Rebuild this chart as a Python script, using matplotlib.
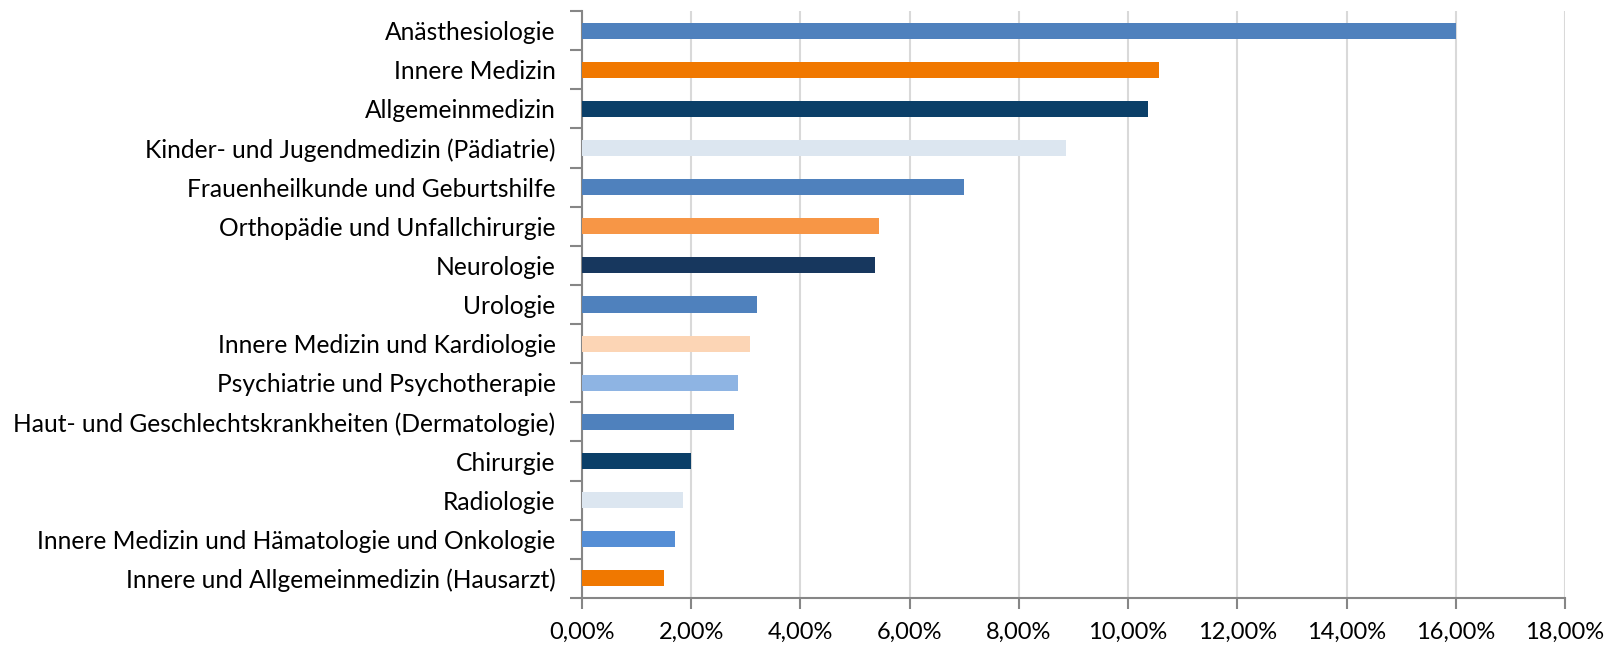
import matplotlib
matplotlib.use("Agg")
import matplotlib.pyplot as plt
import numpy as np
from matplotlib.ticker import FuncFormatter, FixedLocator

plt.rcParams['font.family'] = ['Lato', 'DejaVu Sans']

fachgebiete = [
    "Anästhesiologie",
    "Innere Medizin",
    "Allgemeinmedizin",
    "Kinder- und Jugendmedizin (Pädiatrie)",
    "Frauenheilkunde und Geburtshilfe",
    "Orthopädie und Unfallchirurgie",
    "Neurologie",
    "Urologie",
    "Innere Medizin und Kardiologie",
    "Psychiatrie und Psychotherapie",
    "Haut- und Geschlechtskrankheiten (Dermatologie)",
    "Chirurgie",
    "Radiologie",
    "Innere Medizin und Hämatologie und Onkologie",
    "Innere und Allgemeinmedizin (Hausarzt)",
]
anteile = [16.0, 10.57, 10.37, 8.86, 7.0, 5.44, 5.37, 3.21, 3.08, 2.86,
           2.78, 2.0, 1.85, 1.70, 1.50]
farben = ["#4F81BD", "#F07800", "#0B3F68", "#DCE6F0", "#4F81BD", "#F79646",
          "#17375E", "#4F81BD", "#FCD5B5", "#8EB4E3", "#4F81BD", "#0B3F68",
          "#DCE6F0", "#558ED5", "#F07800"]
x_ticks = [0, 2, 4, 6, 8, 10, 12, 14, 16, 18]

fig = plt.figure(figsize=(16.08, 6.45), dpi=100)
ax = fig.add_axes([582/1608, 1 - 598/645, (1565 - 582)/1608, (598 - 11)/645])

y = np.arange(len(fachgebiete))
ax.barh(y, anteile, height=0.41, color=farben, zorder=3)

ax.set_ylim(len(fachgebiete) - 0.5, -0.5)
ax.set_xlim(0, 18)
ax.set_yticks(y)
ax.set_yticklabels(fachgebiete, fontsize=17.7, color="#000000")
ax.yaxis.set_minor_locator(FixedLocator(np.arange(-0.5, len(fachgebiete), 1)))
ax.tick_params(axis="y", which="major", length=0, pad=19)
ax.tick_params(axis="y", which="minor", length=9, width=1.5, color="#868686")

ax.set_xticks(x_ticks)
ax.xaxis.set_major_formatter(FuncFormatter(lambda v, p: f"{v:.2f}%".replace(".", ",")))
ax.tick_params(axis="x", length=8, width=1.5, color="#868686", labelsize=17, pad=9)

ax.grid(axis="x", color="#D9D9D9", linewidth=1.5, zorder=0)
ax.set_axisbelow(True)
for s in ["top", "right"]:
    ax.spines[s].set_visible(False)
for s in ["left", "bottom"]:
    ax.spines[s].set_color("#868686")
    ax.spines[s].set_linewidth(1.5)

fig.savefig("out.png", dpi=100)
